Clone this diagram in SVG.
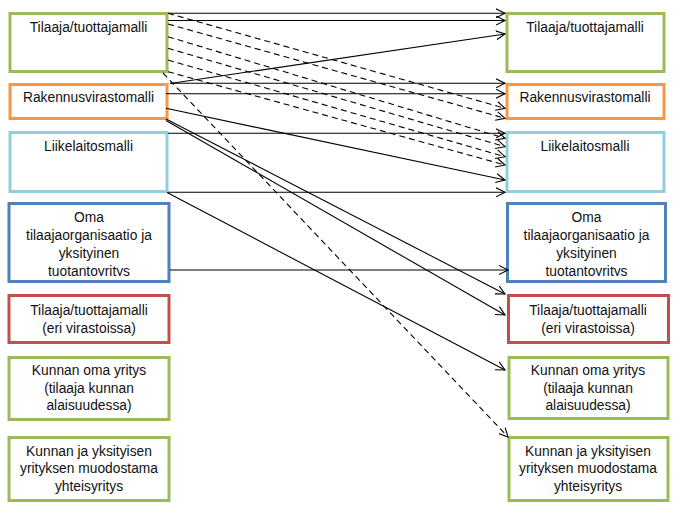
<svg xmlns="http://www.w3.org/2000/svg" width="680" height="513" viewBox="0 0 680 513">
<style>
.bx{fill:#fff;stroke-width:3}
.g{stroke:#9BBB59}.o{stroke:#F79646}.lb{stroke:#92CDDC}.b{stroke:#4F81BD}.r{stroke:#C0504D}
text{font-family:"Liberation Sans",Arial,sans-serif;font-size:13.8px;fill:#111;text-anchor:middle}
.c line{stroke:#000;stroke-width:1.1;marker-end:url(#ah)}
.c .d{stroke-dasharray:6 4}
</style>
<defs>
<marker id="ah" markerUnits="userSpaceOnUse" markerWidth="12" markerHeight="12" refX="9" refY="5" orient="auto">
<path d="M0,0.5 L9,5 L0,9.5" fill="none" stroke="#000" stroke-width="1.1"/>
</marker>
<clipPath id="cl4"><rect x="9" y="203" width="160" height="73"/></clipPath>
<clipPath id="cr4"><rect x="507" y="203" width="160" height="73"/></clipPath>
</defs>
<g id="L1"><rect class="bx g" x="10" y="13.5" width="157" height="58"/><text x="88.5" y="32">Tilaaja/tuottajamalli</text></g>
<g id="L2"><rect class="bx o" x="10" y="84.5" width="157" height="34"/><text x="88.5" y="102">Rakennusvirastomalli</text></g>
<g id="L3"><rect class="bx lb" x="10" y="132.5" width="157" height="59"/><text x="88.5" y="151">Liikelaitosmalli</text></g>
<g id="L4"><rect class="bx b" x="9" y="203.5" width="160" height="78"/><g clip-path="url(#cl4)"><text x="89" y="222.3">Oma</text><text x="89" y="240">tilaajaorganisaatio ja</text><text x="89" y="257.7">yksityinen</text><text x="89" y="275.6">tuotantoyritys</text></g></g>
<g id="L5"><rect class="bx r" x="9" y="295.5" width="160" height="47"/><text x="89" y="315">Tilaaja/tuottajamalli</text><text x="89" y="332.5">(eri virastoissa)</text></g>
<g id="L6"><rect class="bx g" x="9" y="357.5" width="160" height="62"/><text x="89" y="375">Kunnan oma yritys</text><text x="89" y="392.7">(tilaaja kunnan</text><text x="89" y="410.4">alaisuudessa)</text></g>
<g id="L7"><rect class="bx g" x="9" y="437.5" width="160" height="63"/><text x="89" y="455.7">Kunnan ja yksityisen</text><text x="89" y="473.4">yrityksen muodostama</text><text x="89" y="491">yhteisyritys</text></g>
<g id="R1"><rect class="bx g" x="507" y="13.5" width="157" height="58"/><text x="585" y="32">Tilaaja/tuottajamalli</text></g>
<g id="R2"><rect class="bx o" x="507" y="84.5" width="157" height="34"/><text x="585" y="102">Rakennusvirastomalli</text></g>
<g id="R3"><rect class="bx lb" x="507" y="132.5" width="157" height="59"/><text x="585" y="151">Liikelaitosmalli</text></g>
<g id="R4"><rect class="bx b" x="507.5" y="203.5" width="158" height="78"/><g clip-path="url(#cr4)"><text x="586.5" y="222.3">Oma</text><text x="586.5" y="240">tilaajaorganisaatio ja</text><text x="586.5" y="257.7">yksityinen</text><text x="586.5" y="275.6">tuotantoyritys</text></g></g>
<g id="R5"><rect class="bx r" x="508.5" y="295.5" width="160" height="47"/><text x="588" y="315">Tilaaja/tuottajamalli</text><text x="588" y="332.5">(eri virastoissa)</text></g>
<g id="R6"><rect class="bx g" x="509" y="357.5" width="159" height="61"/><text x="588" y="375">Kunnan oma yritys</text><text x="588" y="392.7">(tilaaja kunnan</text><text x="588" y="410.4">alaisuudessa)</text></g>
<g id="R7"><rect class="bx g" x="509" y="437.5" width="159" height="63"/><text x="588" y="455.7">Kunnan ja yksityisen</text><text x="588" y="473.4">yrityksen muodostama</text><text x="588" y="491">yhteisyritys</text></g>
<g id="connectors" class="c">
<line x1="168" y1="13.3" x2="505" y2="13.3"/>
<line x1="168" y1="20.5" x2="505" y2="20.5"/>
<line x1="170" y1="83.5" x2="505" y2="34"/>
<line x1="170" y1="83.3" x2="505" y2="83.3"/>
<line x1="166" y1="93.7" x2="505" y2="93.7"/>
<line x1="166" y1="108.3" x2="505" y2="180"/>
<line x1="168" y1="133.3" x2="505" y2="133.3"/>
<line x1="168" y1="192.3" x2="505" y2="192.3"/>
<line x1="166" y1="119" x2="505" y2="294"/>
<line x1="166" y1="120.5" x2="505" y2="315"/>
<line x1="167" y1="192.5" x2="505" y2="370"/>
<line x1="170" y1="270" x2="508" y2="270"/>
<line class="d" x1="163" y1="73" x2="508" y2="437"/>
<line class="d" x1="168" y1="13.3" x2="505" y2="108.3"/>
<line class="d" x1="168" y1="24" x2="505" y2="118.3"/>
<line class="d" x1="168" y1="36.7" x2="505" y2="138.3"/>
<line class="d" x1="168" y1="48.3" x2="505" y2="146.7"/>
<line class="d" x1="168" y1="60" x2="505" y2="156.7"/>
<line class="d" x1="168" y1="71.7" x2="505" y2="165"/>
</g>
</svg>
